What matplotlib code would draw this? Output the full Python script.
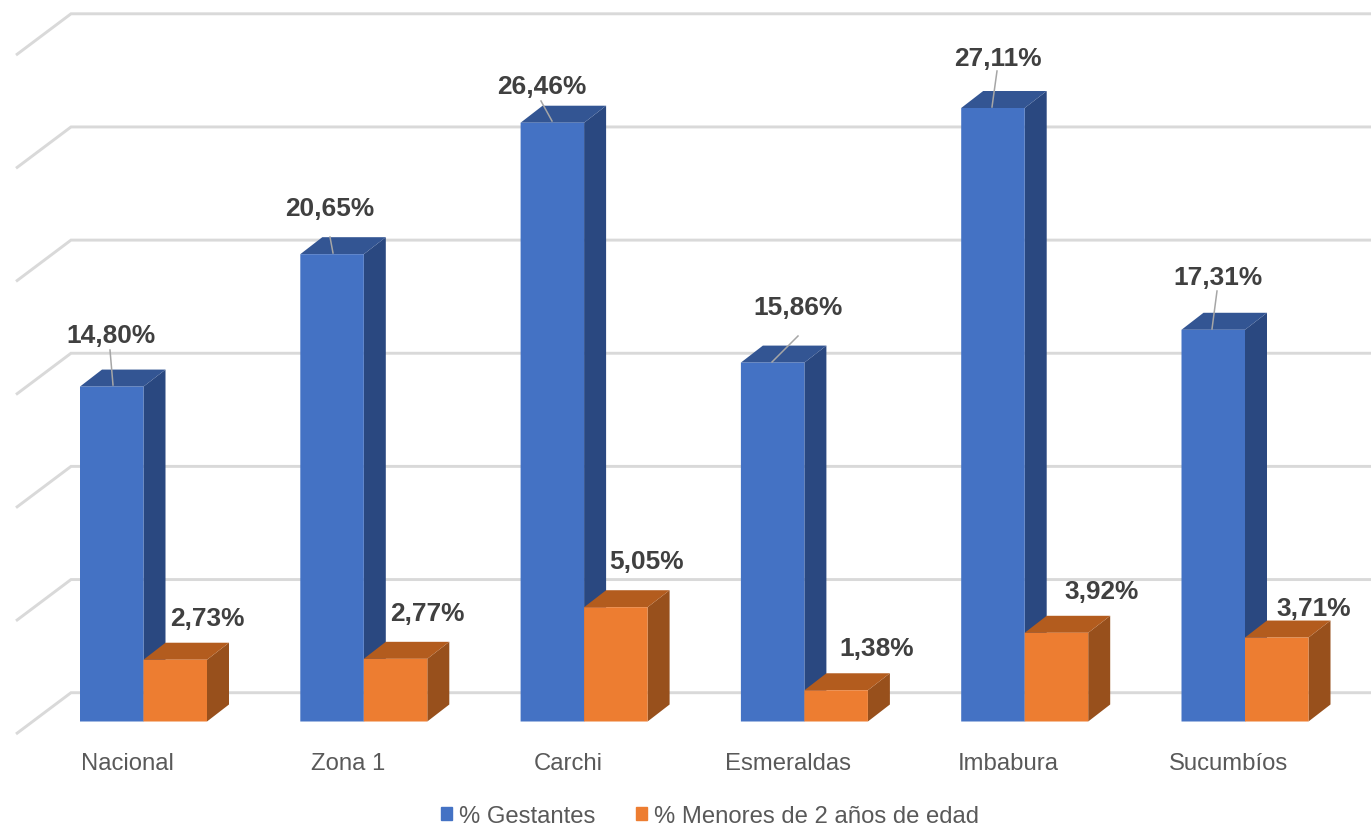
import matplotlib
matplotlib.use('Agg')
import matplotlib.pyplot as plt
from matplotlib.patches import Patch

plt.rcParams['font.family'] = ['Liberation Sans', 'DejaVu Sans']

categories = ['Nacional', 'Zona 1', 'Carchi', 'Esmeraldas', 'Imbabura', 'Sucumbíos']
gestantes = [14.80, 20.65, 26.46, 15.86, 27.11, 17.31]
menores = [2.73, 2.77, 5.05, 1.38, 3.92, 3.71]
grid_values = [0, 5, 10, 15, 20, 25, 30]

# pixel scale of the picture
px_x = 220.3  # pixels per category
px_y = 22.63  # pixels per percentage point
fig_w, fig_h = 1371, 828
x0_px, y0_px = 143.5, 722.5

bar_w = 63.5 / px_x
depth_x = 22 / px_x
depth_y = 17 / px_y

# label offsets from the bar's front top centre, in pixels
blue_label_off = [(-1, -52), (-2, -46), (-11, -37), (25, -56), (5, -50), (5, -53)]
orange_label_off = [(32, -42), (32, -46), (31, -46), (41, -42), (45, -42), (37, -30)]

fig = plt.figure(figsize=(13.71, 8.28), dpi=100)
ax = fig.add_axes([0, 0, 1, 1])
ax.set_xlim(-x0_px / px_x, (fig_w - x0_px) / px_x)
ax.set_ylim((y0_px - fig_h) / px_y, y0_px / px_y)
ax.axis('off')

# back wall and floor lines
for v in grid_values:
    xb = (71 - x0_px) / px_x
    yb = v + 28.8 / px_y
    ax.plot([(16 - x0_px) / px_x, xb, ax.get_xlim()[1]],
            [v - 12.5 / px_y, yb, yb], color='#D9D9D9', lw=2.1, zorder=1,
            solid_joinstyle='miter', solid_capstyle='butt')

# bars, blue then orange so the orange block sits in front
for i, (g, m) in enumerate(zip(gestantes, menores)):
    for left, v, front, top, side, z in [(i - bar_w, g, '#4472C4', '#335593', '#2A4880', 3),
                                         (i, m, '#ED7D31', '#B35C1E', '#98501C', 5)]:
        right = left + bar_w
        ax.fill([right, right + depth_x, right + depth_x, right],
                [0, depth_y, v + depth_y, v], color=side, linewidth=0, zorder=z)
        ax.fill([left, left + depth_x, right + depth_x, right],
                [v, v + depth_y, v + depth_y, v], color=top, linewidth=0, zorder=z)
        ax.bar(left, v, width=bar_w, align='edge', color=front, linewidth=0, zorder=z, snap=False)

# data labels with leader lines on the blue bars
for i, g in enumerate(gestantes):
    cx = i - bar_w / 2
    dx, dy = blue_label_off[i]
    ax.text(cx + dx / px_x, g - dy / px_y, f'{g:.2f}%'.replace('.', ','), ha='center', va='center',
            fontsize=18.9, fontweight='bold', color='#404040', zorder=7)

leader_tops = [(110, 351), (330, 238), (541, 102), (798, 337), (997, 72), (1217, 292)]
leader_ends = [(113, 386), (333, 254), (552, 122), (772, 363), (992, 108), (1212, 330)]
for (x1, y1), (x2, y2) in zip(leader_tops, leader_ends):
    ax.plot([(x1 - x0_px) / px_x, (x2 - x0_px) / px_x],
            [(y0_px - y1) / px_y, (y0_px - y2) / px_y],
            color='#A6A6A6', lw=1.1, zorder=6)

for i, m in enumerate(menores):
    cx = i + bar_w / 2
    dx, dy = orange_label_off[i]
    ax.text(cx + dx / px_x, m - dy / px_y, f'{m:.2f}%'.replace('.', ','), ha='center', va='center',
            fontsize=18.9, fontweight='bold', color='#404040', zorder=7)

# category labels
for i, c in enumerate(categories):
    ax.text(i - 16 / px_x, -42 / px_y, c, ha='center', va='center', fontsize=17.2, color='#595959')

handles = [Patch(color='#4472C4', label='% Gestantes'),
           Patch(color='#ED7D31', label='% Menores de 2 años de edad')]
ax.legend(handles=handles, loc='center', bbox_to_anchor=(710 / fig_w, 1 - 817 / fig_h), ncol=2,
          frameon=False, fontsize=17.2, labelcolor='#595959', handlelength=0.47, handleheight=0.47,
          handletextpad=0.28, columnspacing=1.7, borderpad=0, borderaxespad=0)

fig.savefig('out.png', dpi=100)
